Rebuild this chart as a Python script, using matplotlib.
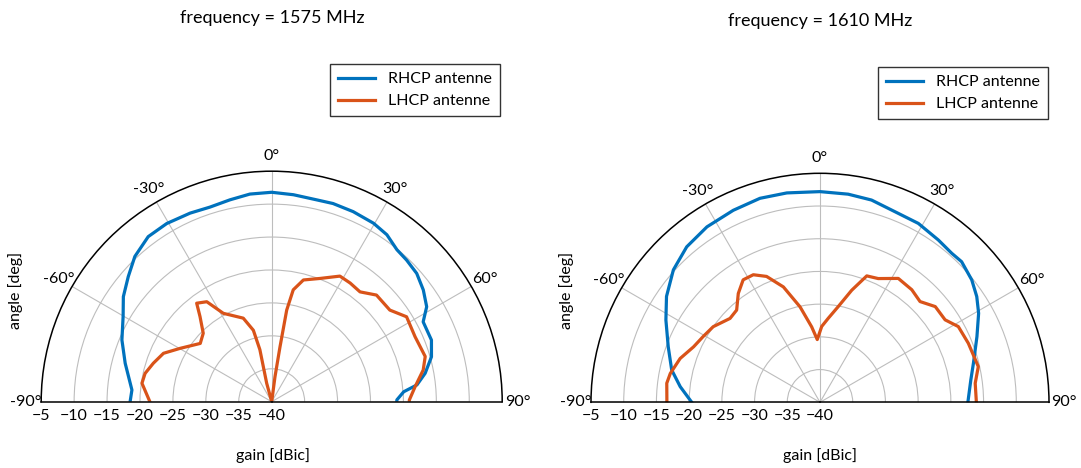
import numpy as np
import matplotlib
matplotlib.use('Agg')
import matplotlib.pyplot as plt
from matplotlib.transforms import offset_copy

plt.rcParams['font.family'] = ['Lato', 'DejaVu Sans']

angle_ticks = [-90, -60, -30, 0, 30, 60, 90]
angle_tick_labels = ['-90°', '-60°', '-30°', '0°', '30°', '60°', '90°']
gain_grid = [-35, -30, -25, -20, -15, -10]
gain_ticks = [-5, -10, -15, -20, -25, -30, -35, -40]
gain_tick_labels = ['\u22125', '\u221210', '\u221215', '\u221220', '\u221225', '\u221230', '\u221235', '\u221240']
gain_min, gain_max = -40, -5

titles = ['frequency = 1575 MHz', 'frequency = 1610 MHz']
series_names = ['RHCP antenne', 'LHCP antenne']
series_colors = ['#0072BD', '#D95319']

f1575_rhcp_angle = [-90, -85.2, -75.3, -67.6, -60.2, -54.7, -48.9, -43.3, -36.8, -30.5, -23.4, -17.6,
                    -11.7, -6.0, 0, 6.0, 12.6, 17.2, 23.2, 29.7, 34.6, 39.5, 43.6, 48.5, 53.6, 58.5,
                    62.2, 68.9, 74.3, 79.5, 83.4, 85.7, 89.2, 90]
f1575_rhcp_gain = [-18.5, -18.7, -17.0, -15.4, -14.0, -12.4, -11.1, -9.7, -8.7, -8.6, -8.8, -9.0,
                   -8.7, -8.3, -8.2, -8.4, -8.6, -8.5, -8.6, -8.8, -9.2, -10.1, -10.3, -10.6, -11.4, -12.4,
                   -14.0, -14.0, -14.8, -16.3, -17.8, -19.9, -21.0, -21.0]

f1575_lhcp_angle = [-90, -81.9, -77.4, -72.0, -65.9, -59.8, -50.8, -45.0, -40.1, -37.3, -33.0, -28.7,
                    -18.8, -14.4, -12.8, -15.2, -10.0, 4.0, 7.5, 8.6, 9.3, 10.9, 14.6, 21.4, 28.5,
                    33.5, 38.8, 44.5, 52.2, 57.8, 65.6, 73.6, 78.2, 84.0, 89.3, 90]
f1575_lhcp_gain = [-21.5, -20.1, -20.3, -21.1, -22.0, -23.9, -26.0, -25.3, -23.1, -21.2, -21.9, -24.7,
                   -26.6, -28.8, -31.9, -37.1, -40.0, -40.0, -36.2, -31.6, -25.9, -22.7, -20.9, -19.9, -18.3,
                   -18.4, -18.6, -17.3, -17.3, -15.8, -16.1, -15.7, -16.5, -18.1, -19.1, -19.1]

f1610_rhcp_angle = [-90, -83.6, -77.7, -69.9, -61.9, -55.4, -47.9, -40.6, -32.8, -24.3, -16.4, -9.0, 0,
                    7.7, 14.3, 21.5, 28.8, 36.1, 41.5, 45.2, 51.1, 56.0, 60.7, 67.3, 75.7, 81.6, 90]
f1610_rhcp_gain = [-20.4, -18.5, -16.8, -15.3, -13.3, -11.5, -9.8, -8.7, -8.1, -7.8, -7.5, -7.6, -7.8,
                   -7.9, -8.1, -8.7, -8.8, -9.3, -9.6, -9.5, -10.2, -11.1, -12.2, -14.0, -15.8, -16.7, -17.4]

f1610_lhcp_angle = [-90, -82.9, -79.1, -72.6, -66.3, -60.7, -54.7, -47.0, -42.1, -36.9, -32.1, -27.6,
                    -23.0, -17.6, -11.8, -6.3, -2.5, 1.3, 5.6, 10.8, 15.8, 20.3, 25.2, 32.3, 39.2,
                    44.8, 50.3, 56.6, 61.3, 68.3, 77.3, 83.0, 90]
f1610_lhcp_gain = [-16.6, -16.4, -16.7, -17.6, -18.9, -19.5, -20.0, -21.2, -21.0, -19.2, -17.9, -18.0,
                   -19.1, -21.5, -25.1, -28.4, -30.4, -28.4, -27.1, -25.1, -22.2, -19.4, -19.1, -17.6, -17.8,
                   -18.3, -17.1, -17.1, -15.9, -15.6, -15.2, -16.1, -16.1]

W, H = 1081, 468

# pole position (px from top-left) and radius in px for each panel
panels = [
    dict(title=titles[0], series=[(f1575_rhcp_angle, f1575_rhcp_gain), (f1575_lhcp_angle, f1575_lhcp_gain)],
         pole=(271.7, 401.7), R=230.5, title_xy=(272, 18), legend_xy=(330, 64),
         ylabel_x=16, xlabel_xy=(273, 456)),
    dict(title=titles[1], series=[(f1610_rhcp_angle, f1610_rhcp_gain), (f1610_lhcp_angle, f1610_lhcp_gain)],
         pole=(820, 402.3), R=229, title_xy=(820, 21), legend_xy=(878, 67),
         ylabel_x=567, xlabel_xy=(820, 456)),
]

fig = plt.figure(figsize=(W / 100, H / 100), dpi=100)

for p in panels:
    px, py = p['pole']
    R = p['R']
    S = 2 * R
    left = px - R
    bottom_from_top = py + 0.25 * S
    rect = [left / W, 1 - bottom_from_top / H, S / W, S / H]
    ax = fig.add_axes(rect, projection='polar')
    ax.set_theta_zero_location('N')
    ax.set_theta_direction(-1)
    ax.set_thetamin(-90)
    ax.set_thetamax(90)
    ax.set_rlim(gain_min, gain_max)
    handles = []
    for (ang, g), name, col in zip(p['series'], series_names, series_colors):
        h, = ax.plot(np.deg2rad(ang), g, color=col, lw=2.3, label=name, solid_joinstyle='round')
        handles.append(h)
    ax.set_thetagrids(angle_ticks, angle_tick_labels, fontsize=11.5)
    ax.set_yticks(gain_grid)
    ax.set_yticklabels([])
    ax.tick_params(axis='both', length=0)
    ax.tick_params(axis='x', pad=4)
    ax.grid(True, color='#BDBDBD', lw=0.8)
    for s in ax.spines.values():
        s.set_color('black')
        s.set_linewidth(1.1)
    tr = offset_copy(ax.transData, fig=fig, y=-5, units='points')
    for r, lab in zip(gain_ticks, gain_tick_labels):
        ax.text(np.deg2rad(-90), r, lab, transform=tr, ha='center', va='top', fontsize=11.5)
    fig.text(p['title_xy'][0] / W, 1 - p['title_xy'][1] / H, p['title'], ha='center', va='center', fontsize=13)
    fig.text(p['ylabel_x'] / W, 1 - 290 / H, 'angle [deg]', rotation=90, ha='center', va='center', fontsize=11.5)
    fig.text(p['xlabel_xy'][0] / W, 1 - p['xlabel_xy'][1] / H, 'gain [dBic]', ha='center', va='center', fontsize=11.5)
    leg = ax.legend(handles=handles, loc='upper left',
                    bbox_to_anchor=(p['legend_xy'][0] / W, 1 - p['legend_xy'][1] / H),
                    bbox_transform=fig.transFigure, fancybox=False, framealpha=1,
                    edgecolor='#333333', fontsize=11.5, handlelength=2.3, handletextpad=0.85,
                    borderpad=0.5, labelspacing=0.5, borderaxespad=0)
    leg.get_frame().set_linewidth(1.0)

fig.savefig('out.png', dpi=100)
